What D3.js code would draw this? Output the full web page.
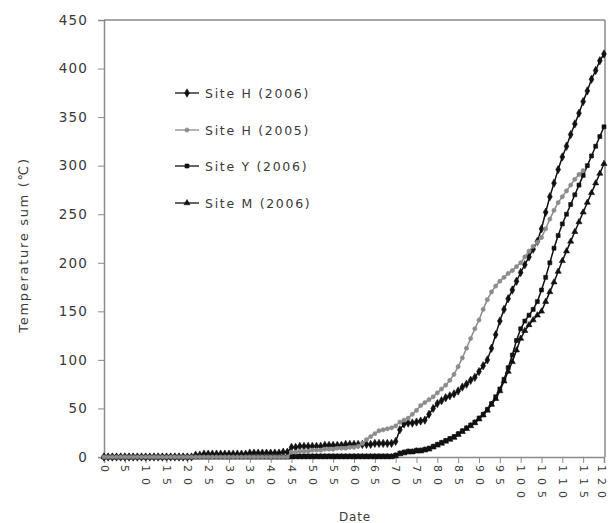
<!DOCTYPE html>
<html>
<head>
<meta charset="utf-8">
<script src="https://cdn.jsdelivr.net/npm/d3@7/dist/d3.min.js"></script>
<style>
  html, body { margin: 0; padding: 0; background: #fff; }
  svg { display: block; }
  text { font-family: "DejaVu Sans", sans-serif; }
</style>
</head>
<body>
<svg id="chart" width="609" height="523"></svg>
<script>
// ---- Data ----
const xTickLabels = ["0","5","10","15","20","25","30","35","40","45","50","55","60",
  "65","70","75","80","85","90","95","100","105","110","115","120"];
const yTickValues = [0,50,100,150,200,250,300,350,400,450];
const seriesNames = ["Site H (2006)", "Site H (2005)", "Site Y (2006)", "Site M (2006)"];

const siteH2006 = [
  0,0,0,0,0,0,0,0,0,0,0,0,0,0,0,0,0,0,0,0,0,0,
  2,2,3,3,3,3,3,3,3,3,3,3,3,4,4,4,4,4,4,4,4,5,5,
  10,10,11,11,11,11,11,11,12,12,12,12,12,13,13,13,13,13,13,13,14,14,14,14,14,
  16,28,34,35,35,36,37,38,44,50,55,58,61,63,65,68,72,75,79,82,88,94,100,112,126,
  140,152,163,172,181,190,198,206,214,222,235,252,268,282,296,309,320,332,343,354,
  366,377,389,398,408,415
];
const siteH2005 = [
  0,0,0,0,0,0,0,0,0,0,0,0,0,0,0,0,0,0,0,0,0,0,0,0,0,0,0,0,0,0,
  0,0,0,0,0,0,0,0,0,0,0,0,0,0,0,
  5,5,6,6,6,7,7,7,8,8,8,9,9,9,10,10,11,
  14,18,21,24,27,28,29,30,32,36,38,40,44,48,53,56,59,62,66,70,74,79,85,93,102,
  112,122,132,141,152,162,170,176,181,185,189,192,196,200,206,212,217,221,226,235,
  245,254,262,268,274,280,286,291,295,
  null,null,null,null,null
];
const siteY2006 = [
  0,0,0,0,0,0,0,0,0,0,0,0,0,0,0,0,0,0,0,0,0,0,0,0,0,0,0,0,0,0,
  0,0,0,0,0,0,0,0,0,0,0,0,0,0,0,
  1,1,1,1,1,1,1,1,1,1,1,1,1,1,1,1,1,1,1,1,1,1,1,1,1,
  2,4,5,6,6,7,7,8,9,11,13,15,17,19,21,24,27,30,33,36,40,44,49,55,62,70,80,92,105,120,
  132,140,146,152,160,172,185,200,215,228,240,250,260,270,280,290,300,310,320,330,340
];
const siteM2006 = [
  0,0,0,0,0,0,0,0,0,0,0,0,0,0,0,0,0,0,0,0,0,0,0,0,0,0,0,0,0,0,
  0,0,0,0,0,0,0,0,0,0,0,0,0,0,0,0,0,0,0,0,0,0,0,0,0,0,0,0,0,0,
  0,0,0,0,0,0,0,0,0,0,
  1,3,4,5,5,6,6,7,8,10,12,14,16,18,20,23,26,29,32,35,39,43,48,54,60,68,78,88,98,110,
  122,130,136,141,146,150,160,170,180,191,202,212,222,232,242,252,262,272,282,292,302
];

// ---- Chart ----
(function () {
const svg = d3.select("#chart");
const pLeft = 104, pRight = 604, pTop = 20, pBottom = 457;

const x = d3.scaleLinear().domain([0, 120]).range([pLeft, pRight]);
const y = d3.scaleLinear().domain([0, 450]).range([pBottom, pTop]);

const axisColor = "#8a8a8a";
const textColor = "#3a3a3a";
const fam = "DejaVu Sans, sans-serif";

// frame top & right
svg.append("line").attr("x1", pLeft).attr("x2", pRight + 1).attr("y1", pTop).attr("y2", pTop)
  .attr("stroke", axisColor).attr("stroke-width", 1.5);
svg.append("line").attr("x1", pRight + 1).attr("x2", pRight + 1).attr("y1", pTop).attr("y2", pBottom)
  .attr("stroke", axisColor).attr("stroke-width", 1.5);

// y axis
const yAxis = svg.append("g").attr("transform", `translate(${pLeft},0)`)
  .call(d3.axisLeft(y).tickValues(yTickValues).tickSize(6).tickPadding(10));
yAxis.select(".domain").attr("stroke", axisColor).attr("stroke-width", 1.5);
yAxis.selectAll(".tick line").attr("stroke", axisColor);
yAxis.selectAll(".tick text").attr("fill", textColor).attr("font-size", 13.5)
  .attr("font-family", fam).attr("letter-spacing", 1.2);

// x axis
const xTickVals = xTickLabels.map(Number);
const xAxis = svg.append("g").attr("transform", `translate(0,${pBottom})`)
  .call(d3.axisBottom(x).tickValues(xTickVals).tickFormat((d, i) => xTickLabels[i]).tickSize(6).tickPadding(3));
xAxis.select(".domain").attr("stroke", axisColor).attr("stroke-width", 1.5);
xAxis.selectAll(".tick line").attr("stroke", axisColor);
xAxis.selectAll(".tick text")
  .attr("fill", textColor).attr("font-size", 11)
  .attr("font-family", fam).attr("letter-spacing", 6)
  .attr("transform", "rotate(90)")
  .attr("text-anchor", "start")
  .attr("x", 8).attr("y", 0)
  .attr("dy", (d, i, n) => i === n.length - 1 ? "0.6em" : "0.36em");

// axis titles
svg.append("text").attr("transform", `translate(28,245) rotate(-90)`)
  .attr("text-anchor", "middle").attr("fill", textColor).attr("font-size", 13)
  .attr("letter-spacing", 1.7)
  .text("Temperature sum (℃)");
svg.append("text").attr("x", 355).attr("y", 521)
  .attr("text-anchor", "middle").attr("fill", textColor).attr("font-size", 12)
  .attr("letter-spacing", 0.8)
  .text("Date");

// series
const seriesData = [siteH2006, siteH2005, siteY2006, siteM2006];
const colors = ["#111", "#8c8c8c", "#111", "#111"];
const symbols = [d3.symbolDiamond, d3.symbolCircle, d3.symbolSquare, d3.symbolTriangle];
const symSizes = [20, 14, 16, 16];

const line = d3.line()
  .defined(d => d[1] != null)
  .x(d => x(d[0])).y(d => y(d[1]));

const order = [3, 2, 0, 1];
order.forEach(si => {
  const pts = seriesData[si].map((v, i) => [i, v]);
  const g = svg.append("g");
  g.append("path").datum(pts).attr("d", line)
    .attr("fill", "none").attr("stroke", colors[si]).attr("stroke-width", 1.5);
  g.selectAll("path.m").data(pts.filter(d => d[1] != null)).enter().append("path")
    .attr("class", "m")
    .attr("transform", d => `translate(${x(d[0])},${y(d[1])})`)
    .attr("d", d3.symbol().type(symbols[si]).size(symSizes[si]))
    .attr("fill", colors[si]).attr("stroke", colors[si]).attr("stroke-width", 0.6);
});

// legend
const legendY = [93, 130, 166, 203];
seriesNames.forEach((name, i) => {
  const g = svg.append("g").attr("transform", `translate(0,${legendY[i]})`);
  g.append("line").attr("x1", 175).attr("x2", 199).attr("y1", 0).attr("y2", 0)
    .attr("stroke", colors[i]).attr("stroke-width", 1.3);
  g.append("path").attr("transform", "translate(187,0)")
    .attr("d", d3.symbol().type(symbols[i]).size(symSizes[i]))
    .attr("fill", colors[i]).attr("stroke", colors[i]).attr("stroke-width", 0.6);
  g.append("text").attr("x", 205).attr("y", 0).attr("dy", "0.36em")
    .attr("fill", textColor).attr("font-size", 12.5).attr("letter-spacing", 1.7).text(name);
});
})();
</script>
</body>
</html>
